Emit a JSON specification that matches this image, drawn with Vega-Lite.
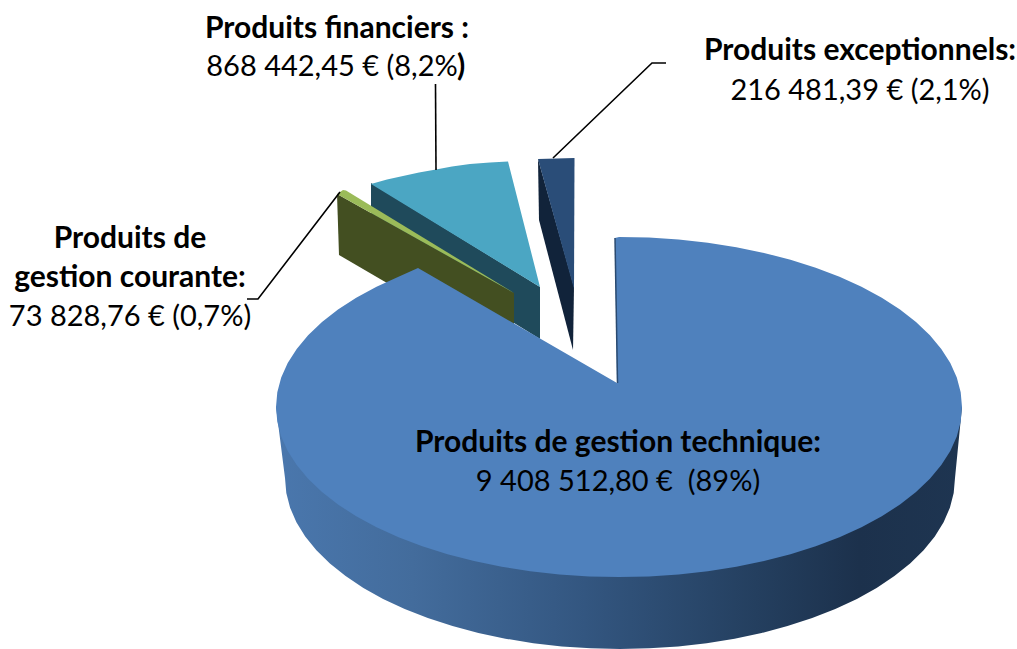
{
"$schema":"https://vega.github.io/schema/vega-lite/v6.json",
"width":1017,"height":649,
"autosize":{"type":"fit","contains":"padding"},
"padding":0,
"background":"white",
"view":{"stroke":null},
"config":{"view":{"stroke":null}},
"datasets":{
"finWall":[{"i":0,"x":371,"y":183},{"i":1,"x":371,"y":235},{"i":2,"x":540,"y":339},{"i":3,"x":540,"y":287}],
"finTop":[{"i":0,"x":371,"y":184},{"i":1,"x":387,"y":179.5},{"i":2,"x":403,"y":176},{"i":3,"x":419,"y":172.5},{"i":4,"x":436,"y":169.5},{"i":5,"x":452,"y":166.5},{"i":6,"x":470,"y":164},{"i":7,"x":490,"y":162.5},{"i":8,"x":508,"y":161.5},{"i":9,"x":540,"y":287}],
"excWall":[{"i":0,"x":538,"y":159},{"i":1,"x":539,"y":220},{"i":2,"x":573,"y":350},{"i":3,"x":574,"y":287}],
"excTop":[{"i":0,"x":538,"y":159},{"i":1,"x":574.5,"y":158},{"i":2,"x":574,"y":289}],
"couWall":[{"i":0,"x":337,"y":194},{"i":1,"x":339,"y":255},{"i":2,"x":514,"y":357},{"i":3,"x":514,"y":293}],
"couTop":[{"i":0,"x":337,"y":194},{"i":1,"x":343,"y":190},{"i":2,"x":346,"y":190.5},{"i":3,"x":514,"y":293}],
"mainWall":[{"i":0,"x":962,"y":407},{"i":1,"x":955,"y":478},{"i":2,"x":953.7,"y":492.9},{"i":3,"x":949.9,"y":507.7},{"i":4,"x":943.6,"y":522.3},{"i":5,"x":934.8,"y":536.5},{"i":6,"x":923.6,"y":550.3},{"i":7,"x":910.1,"y":563.5},{"i":8,"x":894.4,"y":576.1},{"i":9,"x":876.6,"y":587.9},{"i":10,"x":856.9,"y":598.9},{"i":11,"x":835.3,"y":609},{"i":12,"x":812.2,"y":618.1},{"i":13,"x":787.5,"y":626.1},{"i":14,"x":761.6,"y":633},{"i":15,"x":734.6,"y":638.7},{"i":16,"x":706.7,"y":643.2},{"i":17,"x":678.2,"y":646.4},{"i":18,"x":649.2,"y":648.3},{"i":19,"x":620,"y":649},{"i":20,"x":590.8,"y":648.3},{"i":21,"x":561.8,"y":646.4},{"i":22,"x":533.3,"y":643.2},{"i":23,"x":505.4,"y":638.7},{"i":24,"x":478.4,"y":633},{"i":25,"x":452.5,"y":626.1},{"i":26,"x":427.8,"y":618.1},{"i":27,"x":404.7,"y":609},{"i":28,"x":383.1,"y":598.9},{"i":29,"x":363.4,"y":587.9},{"i":30,"x":345.6,"y":576.1},{"i":31,"x":329.9,"y":563.5},{"i":32,"x":316.4,"y":550.3},{"i":33,"x":305.2,"y":536.5},{"i":34,"x":296.4,"y":522.3},{"i":35,"x":290.1,"y":507.7},{"i":36,"x":286.3,"y":492.9},{"i":37,"x":285,"y":478},{"i":38,"x":276,"y":407}],
"mainTop":[{"i":0,"x":615,"y":238},{"i":1,"x":619,"y":237},{"i":2,"x":648.9,"y":237.6},{"i":3,"x":678.6,"y":239.6},{"i":4,"x":707.8,"y":242.8},{"i":5,"x":736.3,"y":247.3},{"i":6,"x":764,"y":252.9},{"i":7,"x":790.5,"y":259.8},{"i":8,"x":815.7,"y":267.7},{"i":9,"x":839.5,"y":276.8},{"i":10,"x":861.5,"y":286.8},{"i":11,"x":881.8,"y":297.7},{"i":12,"x":900,"y":309.5},{"i":13,"x":916,"y":322},{"i":14,"x":929.9,"y":335.2},{"i":15,"x":941.3,"y":348.9},{"i":16,"x":950.3,"y":363},{"i":17,"x":956.8,"y":377.5},{"i":18,"x":960.7,"y":392.2},{"i":19,"x":962,"y":407},{"i":20,"x":960.7,"y":421.8},{"i":21,"x":956.8,"y":436.5},{"i":22,"x":950.3,"y":451},{"i":23,"x":941.3,"y":465.1},{"i":24,"x":929.9,"y":478.8},{"i":25,"x":916,"y":492},{"i":26,"x":900,"y":504.5},{"i":27,"x":881.8,"y":516.3},{"i":28,"x":861.5,"y":527.2},{"i":29,"x":839.5,"y":537.2},{"i":30,"x":815.7,"y":546.3},{"i":31,"x":790.5,"y":554.2},{"i":32,"x":764,"y":561.1},{"i":33,"x":736.3,"y":566.7},{"i":34,"x":707.8,"y":571.2},{"i":35,"x":678.6,"y":574.4},{"i":36,"x":648.9,"y":576.4},{"i":37,"x":619,"y":577},{"i":38,"x":589.1,"y":576.4},{"i":39,"x":559.4,"y":574.4},{"i":40,"x":530.2,"y":571.2},{"i":41,"x":501.7,"y":566.7},{"i":42,"x":474,"y":561.1},{"i":43,"x":447.5,"y":554.2},{"i":44,"x":422.3,"y":546.3},{"i":45,"x":398.5,"y":537.2},{"i":46,"x":376.5,"y":527.2},{"i":47,"x":356.2,"y":516.3},{"i":48,"x":338,"y":504.5},{"i":49,"x":322,"y":492},{"i":50,"x":308.1,"y":478.8},{"i":51,"x":296.7,"y":465.1},{"i":52,"x":287.7,"y":451},{"i":53,"x":281.2,"y":436.5},{"i":54,"x":277.3,"y":421.8},{"i":55,"x":276,"y":407},{"i":56,"x":277.3,"y":392.2},{"i":57,"x":281.2,"y":377.5},{"i":58,"x":287.7,"y":363},{"i":59,"x":296.7,"y":348.9},{"i":60,"x":308.1,"y":335.2},{"i":61,"x":322,"y":322},{"i":62,"x":338,"y":309.5},{"i":63,"x":356.2,"y":297.7},{"i":64,"x":376.5,"y":286.8},{"i":65,"x":398.5,"y":276.8},{"i":66,"x":418,"y":268},{"i":67,"x":617,"y":383}],
"mainCut":[{"i":0,"x":615,"y":238},{"i":1,"x":617.5,"y":383}],
"leaders":[{"g":"f","i":0,"x":435.5,"y":84},{"g":"f","i":1,"x":436,"y":170},{"g":"e","i":0,"x":553,"y":158},{"g":"e","i":1,"x":652,"y":63},{"g":"e","i":2,"x":666,"y":63},{"g":"c","i":0,"x":340,"y":192},{"g":"c","i":1,"x":258,"y":299},{"g":"c","i":2,"x":247,"y":299}],
"bold":[{"t":"Produits financiers :","x":337,"y":38},{"t":")","x":461,"y":76},{"t":"Produits exceptionnels:","x":860,"y":60},{"t":"Produits de","x":130,"y":248},{"t":"gestion courante:","x":130,"y":287},{"t":"Produits de gestion technique:","x":618,"y":452}],
"regular":[{"t":"868 442,45 € (8,2%","x":332,"y":76},{"t":"216 481,39 € (2,1%)","x":860,"y":100},{"t":"73 828,76 € (0,7%)","x":130,"y":326},{"t":"9 408 512,80 €\u00a0 (89%)","x":618,"y":491}]
},
"encoding":{
"x":{"field":"x","type":"quantitative","axis":null,"scale":{"domain":[0,1017],"nice":false,"zero":false}},
"y":{"field":"y","type":"quantitative","axis":null,"scale":{"domain":[649,0],"nice":false,"zero":false}}
},
"layer":[
{"data":{"name":"finWall"},"mark":{"type":"line","fill":"#1f4a5b","stroke":null},"encoding":{"order":{"field":"i"}}},
{"data":{"name":"finTop"},"mark":{"type":"line","fill":"#4ba6c3","stroke":null},"encoding":{"order":{"field":"i"}}},
{"data":{"name":"excWall"},"mark":{"type":"line","fill":"#11233a","stroke":null},"encoding":{"order":{"field":"i"}}},
{"data":{"name":"excTop"},"mark":{"type":"line","fill":"#2a4d78","stroke":null},"encoding":{"order":{"field":"i"}}},
{"data":{"name":"couWall"},"mark":{"type":"line","fill":"#434f21","stroke":null},"encoding":{"order":{"field":"i"}}},
{"data":{"name":"couTop"},"mark":{"type":"line","fill":"#9bbb59","stroke":null},"encoding":{"order":{"field":"i"}}},
{"data":{"name":"mainWall"},"mark":{"type":"line","stroke":null,"fill":{"gradient":"linear","x1":0,"y1":0,"x2":1,"y2":0,"stops":[{"offset":0,"color":"#4a77ad"},{"offset":0.2,"color":"#436c9c"},{"offset":0.45,"color":"#335680"},{"offset":0.7,"color":"#243f5f"},{"offset":0.85,"color":"#1c314c"},{"offset":1,"color":"#1e3551"}]}},"encoding":{"order":{"field":"i"}}},
{"data":{"name":"mainTop"},"mark":{"type":"line","fill":"#4f81bd","stroke":null},"encoding":{"order":{"field":"i"}}},
{"data":{"name":"mainCut"},"mark":{"type":"line","stroke":"#2a4a70","strokeWidth":1.5},"encoding":{"order":{"field":"i"}}},
{"data":{"name":"leaders"},"mark":{"type":"line","stroke":"black","strokeWidth":1.6},"encoding":{"order":{"field":"i"},"detail":{"field":"g"}}},
{"data":{"name":"bold"},"mark":{"type":"text","font":"Lato","fontSize":30,"fontWeight":"bold","align":"center","baseline":"alphabetic","color":"black"},"encoding":{"text":{"field":"t"}}},
{"data":{"name":"regular"},"mark":{"type":"text","font":"Lato","fontSize":29,"align":"center","baseline":"alphabetic","color":"black"},"encoding":{"text":{"field":"t"}}}
]
}
